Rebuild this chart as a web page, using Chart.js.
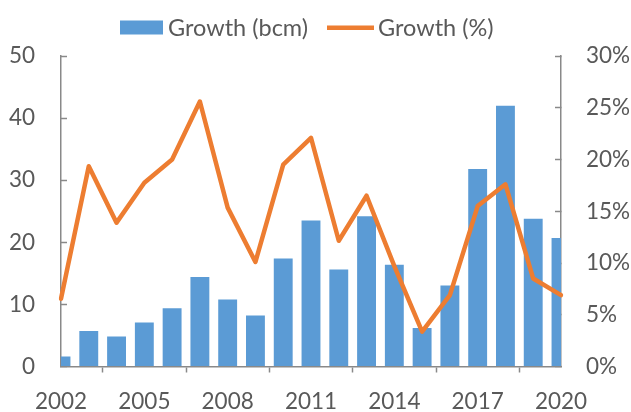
<!DOCTYPE html>
<html>
<head>
<meta charset="utf-8">
<script src="https://cdn.jsdelivr.net/npm/chart.js@4/dist/chart.umd.min.js"></script>
<style>
  html, body { margin: 0; padding: 0; background: #fff; }
  #wrap { width: 631px; height: 412px; position: relative; }
</style>
</head>
<body>
<div id="wrap"><canvas id="growthChart"></canvas></div>
<script>
var years = ['2002', '2003', '2004', '2005', '2006', '2007', '2008', '2009', '2010', '2011',
             '2012', '2013', '2014', '2015', '2016', '2017', '2018', '2019', '2020'];
var growthBcm = [1.6, 5.7, 4.85, 7.1, 9.4, 14.4, 10.8, 8.2, 17.4, 23.5,
                 15.6, 24.2, 16.4, 6.2, 13.05, 31.8, 42.0, 23.8, 20.7];
var growthPct = [6.55, 19.35, 13.9, 17.75, 20.0, 25.6, 15.35, 10.1, 19.5, 22.1,
                 12.15, 16.5, 9.7, 3.36, 6.9, 15.5, 17.6, 8.5, 6.9];
var leftTicks = [0, 10, 20, 30, 40, 50];
var rightTicks = [0, 5, 10, 15, 20, 25, 30];

var FONT = 'Lato';
var textColor = '#595959';
var axisColor = '#898989';
var blue = '#5B9BD5';
var orange = '#ED7D31';

// legend drawn by hand so the gaps match the original
var legendPlugin = {
  id: 'handLegend',
  afterDraw: function(chart) {
    var ctx = chart.ctx;
    var ds = chart.data.datasets;
    ctx.save();
    ctx.font = '23.5px ' + FONT;
    ctx.textBaseline = 'middle';
    // bar item
    ctx.fillStyle = ds[1].backgroundColor;
    ctx.fillRect(120, 20.5, 43, 14);
    ctx.fillStyle = textColor;
    ctx.fillText(ds[1].label, 168, 28);
    // line item
    ctx.strokeStyle = ds[0].borderColor;
    ctx.lineWidth = ds[0].borderWidth;
    ctx.beginPath();
    ctx.moveTo(327, 27.7);
    ctx.lineTo(374, 27.7);
    ctx.stroke();
    ctx.fillText(ds[0].label, 378, 28);
    ctx.restore();
  }
};

var myContext = document.getElementById('growthChart');
var myChart = new Chart(myContext, {
  type: 'bar',
  data: {
    labels: years,
    datasets: [
      {
        type: 'line',
        label: 'Growth (%)',
        data: growthPct,
        yAxisID: 'y1',
        borderColor: orange,
        backgroundColor: orange,
        borderWidth: 4.5,
        pointRadius: 0,
        tension: 0,
        borderJoinStyle: 'round',
        borderCapStyle: 'round',
        order: 0
      },
      {
        type: 'bar',
        label: 'Growth (bcm)',
        data: growthBcm,
        yAxisID: 'y',
        backgroundColor: blue,
        borderWidth: 0,
        categoryPercentage: 1,
        barPercentage: 0.68,
        clip: 0,
        order: 1
      }
    ]
  },
  options: {
    responsive: true,
    maintainAspectRatio: false,
    animation: false,
    layout: { padding: { top: 56, left: 0, right: 0, bottom: 0 } },
    plugins: {
      legend: { display: false },
      tooltip: { enabled: false }
    },
    scales: {
      x: {
        offset: false,
        border: { display: true, color: axisColor, width: 1.5 },
        grid: { display: true, drawOnChartArea: false, tickLength: 6, tickColor: axisColor, tickWidth: 1.5 },
        ticks: {
          autoSkip: false,
          maxRotation: 0,
          padding: 16,
          color: textColor,
          font: { family: FONT, size: 22.5 },
          callback: function(value, index) {
            return index % 3 === 0 ? years[index] : null;
          }
        },
        afterFit: function(scale) { scale.height = 44; }
      },
      y: {
        position: 'left',
        min: leftTicks[0],
        max: leftTicks[leftTicks.length - 1],
        border: { display: true, color: axisColor, width: 1.5 },
        grid: { display: true, drawOnChartArea: false, tickLength: -6, tickColor: axisColor, tickWidth: 1.5 },
        ticks: {
          stepSize: 10,
          padding: 32,
          color: textColor,
          font: { family: FONT, size: 22.5 }
        },
        afterFit: function(scale) { scale.width = 61; }
      },
      y1: {
        position: 'right',
        min: rightTicks[0],
        max: rightTicks[rightTicks.length - 1],
        border: { display: true, color: axisColor, width: 1.5 },
        grid: { display: true, drawOnChartArea: false, tickLength: -6, tickColor: axisColor, tickWidth: 1.5 },
        ticks: {
          stepSize: 5,
          padding: 31,
          color: textColor,
          font: { family: FONT, size: 22.5 },
          callback: function(value) { return value + '%'; }
        },
        afterFit: function(scale) { scale.width = 70; }
      }
    }
  },
  plugins: [legendPlugin]
});
</script>
</body>
</html>
